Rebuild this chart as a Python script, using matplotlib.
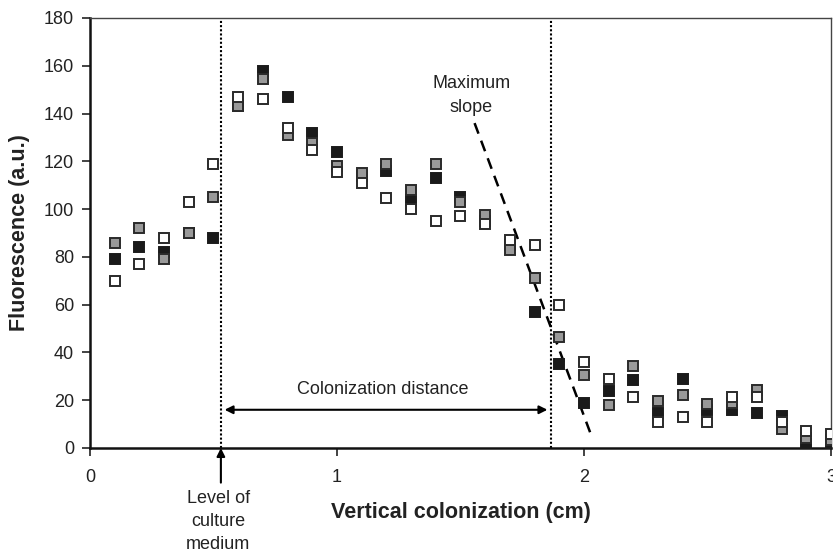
import matplotlib
matplotlib.use("Agg")
import matplotlib.pyplot as plt

plt.rcParams['font.family'] = ['Liberation Sans', 'DejaVu Sans']

x = [0.1, 0.2, 0.3, 0.4, 0.5, 0.6, 0.7, 0.8, 0.9, 1.0,
     1.1, 1.2, 1.3, 1.4, 1.5, 1.6, 1.7, 1.8, 1.9, 2.0,
     2.1, 2.2, 2.3, 2.4, 2.5, 2.6, 2.7, 2.8, 2.9, 3.0]
black = [79, 84, 82, 90, 88, 143, 158, 147, 132, 124,
         114, 116, 104, 113, 105, 95, 85, 57, 35, 19,
         24, 28.5, 14.5, 29, 16, 16, 14.5, 13.4, 1.5, 1.3]
gray = [86, 92, 79, 90, 105, 143, 154.5, 131, 127.5, 118,
        115, 119, 108, 119, 103, 97.5, 83, 71, 46.5, 30.5,
        18, 34.5, 19.5, 22, 18.3, 19, 24.3, 7.8, 4.2, 3.3]
white = [70, 77, 88, 103, 119, 147, 146, 134, 124.7, 115.7,
         111, 104.5, 100, 95, 97, 93.8, 87, 85, 60, 36,
         29, 21.5, 11, 13, 11, 21.5, 21.5, 10.9, 7.3, 6]

yticks = [0, 20, 40, 60, 80, 100, 120, 140, 160, 180]
xticks = [0, 1, 2, 3]

medium_level = 0.53
colonization_end = 1.867
slope_x = [1.557, 2.029]
slope_y = [136, 5.4]

fig = plt.figure(figsize=(8.33, 5.57), dpi=100)
ax = fig.add_axes([0.108, 0.1957, 0.8896, 0.772])

ms = 7.5
mew = 1.4
ax.plot(x, black, 's', ms=ms, mfc='#1a1a1a', mec='#1a1a1a', mew=mew, zorder=3)
ax.plot(x, gray, 's', ms=ms, mfc='#999999', mec='#2a2a2a', mew=mew, zorder=4)
ax.plot(x, white, 's', ms=ms, mfc='white', mec='#2a2a2a', mew=mew, zorder=5)

ax.axvline(medium_level, color='black', ls=(0, (1, 1.0)), lw=1.5, zorder=2)
ax.axvline(colonization_end, color='black', ls=(0, (1, 1.0)), lw=1.5, zorder=2)
ax.plot(slope_x, slope_y, color='black', ls=(0, (4.5, 3)), lw=1.8, zorder=2)

ax.annotate('', xy=(medium_level + 0.015, 16), xytext=(colonization_end - 0.015, 16),
            arrowprops=dict(arrowstyle='<|-|>', color='black', lw=1.5,
                            shrinkA=0, shrinkB=0, mutation_scale=12))
ax.text((medium_level + colonization_end) / 2 - 0.015, 24.3, 'Colonization distance',
        ha='center', va='center', fontsize=13, color='#222222')
ax.text(1.543, 147.5, 'Maximum\nslope', ha='center', va='center', fontsize=13,
        color='#222222', linespacing=1.5)

ax.set_xlim(0, 3)
ax.set_ylim(0, 180)
ax.set_xticks(xticks)
ax.set_yticks(yticks)
ax.tick_params(direction='out', length=6, width=1.2, labelsize=13,
               colors='#222222')
ax.tick_params(axis='x', pad=9)
ax.tick_params(axis='y', pad=5.5)

for s in ['left', 'bottom']:
    ax.spines[s].set_linewidth(1.8)
    ax.spines[s].set_color('#111111')
for s in ['top', 'right']:
    ax.spines[s].set_linewidth(1.0)
    ax.spines[s].set_color('#444444')

ax.set_xlabel('Vertical colonization (cm)', fontsize=15.5, fontweight='bold',
              labelpad=12, color='#222222')
ax.set_ylabel('Fluorescence (a.u.)', fontsize=15.5, fontweight='bold',
              labelpad=10, color='#222222')

# Level of culture medium arrow below axis
ax.annotate('', xy=(medium_level, 0), xytext=(medium_level, -14.5),
            xycoords='data', textcoords='data', annotation_clip=False,
            arrowprops=dict(arrowstyle='-|>', color='black', lw=1.5,
                            shrinkA=0, shrinkB=0, mutation_scale=12))
ax.text(medium_level - 0.01, -17.5, 'Level of\nculture\nmedium', ha='center', va='top',
        fontsize=13, color='#222222', linespacing=1.45, clip_on=False)

fig.savefig('out.png', dpi=100)
